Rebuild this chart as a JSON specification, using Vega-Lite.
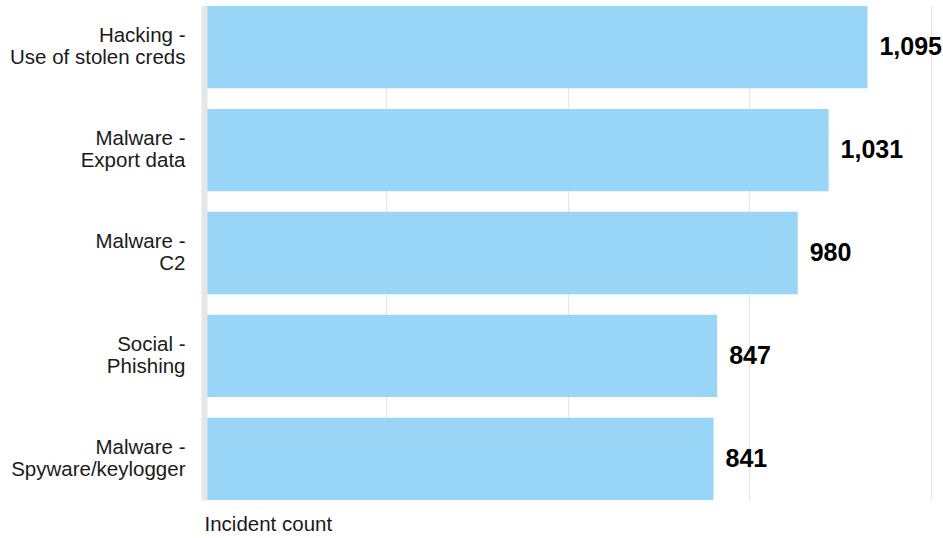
{
  "$schema": "https://vega.github.io/schema/vega-lite/v6.json",
  "autosize": {"type": "none"},
  "padding": {"left": 204, "top": 6, "right": 12, "bottom": 38},
  "width": 727,
  "height": 494,
  "background": "white",
  "config": {
    "view": {"stroke": null},
    "font": "Liberation Sans"
  },
  "data": {
    "values": [
      {"action": "Hacking -\nUse of stolen creds", "count": 1095},
      {"action": "Malware -\nExport data", "count": 1031},
      {"action": "Malware -\nC2", "count": 980},
      {"action": "Social -\nPhishing", "count": 847},
      {"action": "Malware -\nSpyware/keylogger", "count": 841}
    ]
  },
  "encoding": {
    "y": {
      "field": "action",
      "type": "nominal",
      "sort": null,
      "scale": {"paddingInner": 0.2, "paddingOuter": 0},
      "axis": {
        "title": null,
        "ticks": false,
        "domain": true,
        "domainColor": "#e6e6e6",
        "domainWidth": 6,
        "zindex": 1,
        "labelExpr": "split(datum.label, '\\n')",
        "labelFont": "Liberation Sans",
        "labelFontSize": 20.5,
        "labelLineHeight": 22,
        "labelColor": "#1a1a1a",
        "labelPadding": 19,
        "labelOffset": -11,
        "labelLimit": 300
      }
    },
    "x": {
      "field": "count",
      "type": "quantitative",
      "scale": {"domain": [0, 1200], "nice": false},
      "axis": {
        "title": "Incident count",
        "titleFont": "Liberation Sans",
        "titleFontSize": 20.5,
        "titleFontWeight": "normal",
        "titleColor": "#1a1a1a",
        "titleAnchor": "start",
        "titleAlign": "left",
        "titlePadding": 14,
        "values": [0, 300, 600, 900, 1200],
        "labels": false,
        "ticks": false,
        "domain": false,
        "grid": true,
        "gridColor": "#e6e6e6",
        "gridWidth": 1.2
      }
    }
  },
  "layer": [
    {
      "mark": {"type": "bar", "color": "#98d5f7"}
    },
    {
      "mark": {
        "type": "text",
        "align": "left",
        "baseline": "middle",
        "dx": 12,
        "font": "Liberation Sans",
        "fontSize": 25,
        "fontWeight": "bold",
        "color": "#000000"
      },
      "encoding": {
        "text": {"field": "count", "type": "quantitative", "format": ","}
      }
    }
  ]
}
